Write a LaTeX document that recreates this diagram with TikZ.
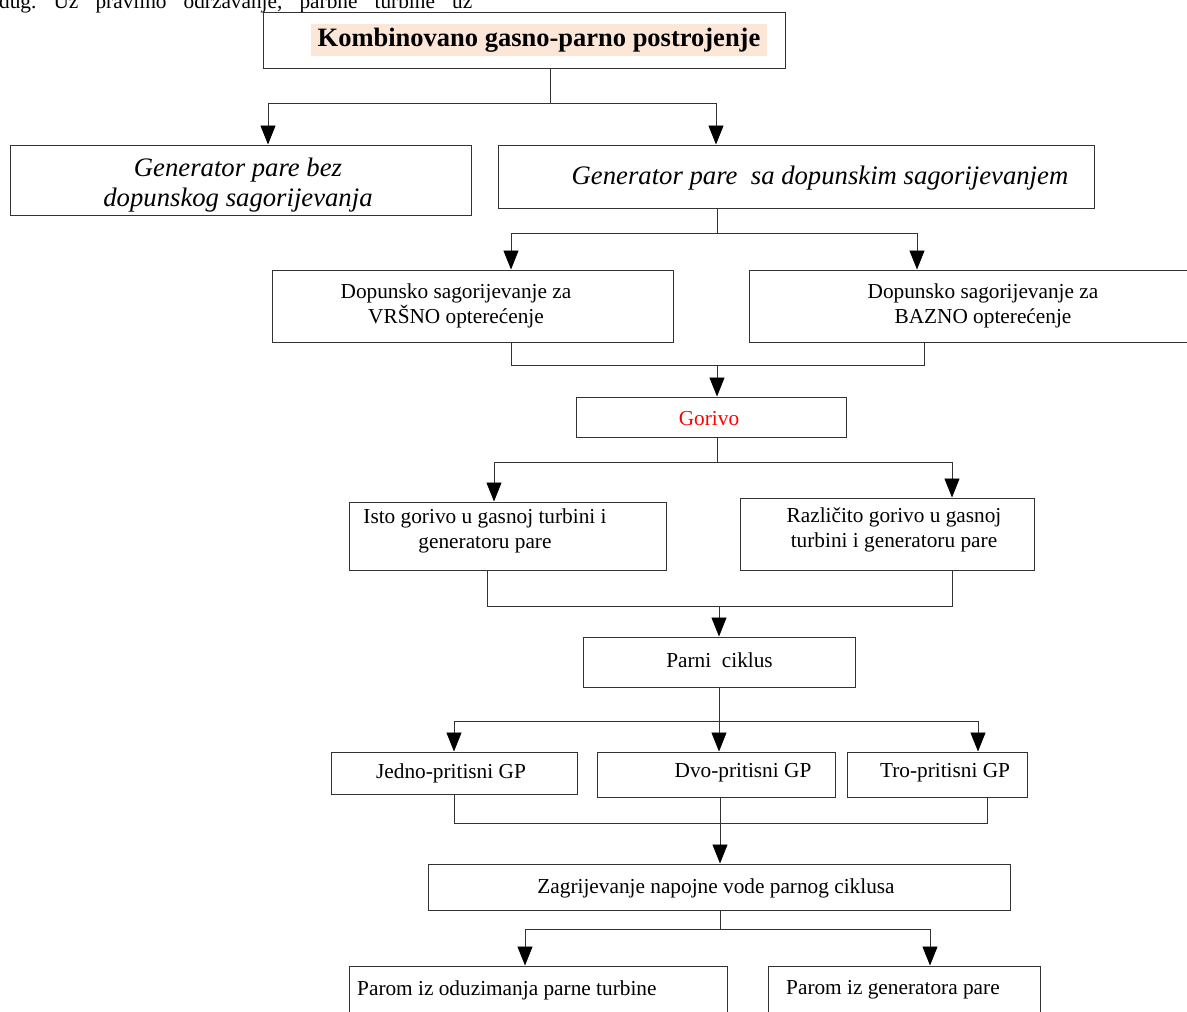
\documentclass[tikz,border=0pt]{standalone}
\usepackage{fontspec}
\setmainfont{Liberation Serif}
\usetikzlibrary{arrows.meta,fit}
\definecolor{peach}{HTML}{FCE6D8}
\definecolor{redtxt}{HTML}{FF0000}
\begin{document}
\frenchspacing
\begin{tikzpicture}[x=1pt,y=-1pt,
  box/.style={draw=black!80, line width=1pt, rectangle, inner sep=0pt},
  conn/.style={draw=black!80, line width=0.9pt},
  arr/.style={conn, -{Triangle[length=19pt,width=15pt,color=black]}},
  txt/.style={font=\fontsize{21.3}{24.5}\selectfont, align=center, inner sep=0pt},
  itxt/.style={font=\fontsize{26.7}{30.5}\selectfont\itshape, align=center, inner sep=0pt},
  btxt/.style={font=\fontsize{26.5}{30}\selectfont\bfseries, inner sep=0pt}
]
\fill[white] (0,0) rectangle (1187,1012);
\useasboundingbox (0,0) rectangle (1187,1012);

% clipped running text at top
\node[anchor=base west, inner sep=0pt, font=\fontsize{21.3}{24.5}\selectfont] (topline) at (-1,8)
  {\makebox[473pt][s]{dug. Uz pravilno održavanje, parbne turbine uz}};

% boxes
\node[box, fit={(263,12)(785,68)}] (title) {};
\node[box, fit={(10,145)(471,215)}] (gbez) {};
\node[box, fit={(498,145)(1094,208)}] (gsa) {};
\node[box, fit={(272,270)(673,342)}] (vrs) {};
\node[box, fit={(749,270)(1195,342)}] (baz) {};
\node[box, fit={(576,397)(846,437)}] (gor) {};
\node[box, fit={(349,502)(666,570)}] (isto) {};
\node[box, fit={(740,498)(1034,570)}] (raz) {};
\node[box, fit={(583,637)(855,687)}] (parni) {};
\node[box, fit={(331,752)(577,794)}] (jed) {};
\node[box, fit={(597,752)(835,797)}] (dvo) {};
\node[box, fit={(847,752)(1027,797)}] (tro) {};
\node[box, fit={(428,864)(1010,910)}] (zag) {};
\node[box, fit={(349,966)(727,1030)}] (pod) {};
\node[box, fit={(768,966)(1040,1030)}] (pgen) {};

% texts
\node[btxt, fill=peach, inner xsep=7pt, minimum height=32pt] (ttitle) at (539,40) {Kombinovano gasno-parno postrojenje};
\node[itxt] (tgbez) at (238,185) {Generator pare bez\\dopunskog sagorijevanja};
\node[itxt] (tgsa) at (820,178) {Generator pare\ \ sa dopunskim sagorijevanjem};
\node[txt] (tvrs) at (456,306) {Dopunsko sagorijevanje za\\VRŠNO opterećenje};
\node[txt] (tbaz) at (983,306) {Dopunsko sagorijevanje za\\BAZNO opterećenje};
\node[txt, text=redtxt] (tgor) at (709,419) {Gorivo};
\node[txt] (tisto) at (485,531) {Isto gorivo u gasnoj turbini i\\generatoru pare};
\node[txt] (traz) at (894,530) {Različito gorivo u gasnoj\\turbini i generatoru pare};
\node[txt] (tparni) at (719.5,660) {Parni\ \ ciklus};
\node[txt] (tjed) at (451,773) {Jedno-pritisni GP};
\node[txt] (tdvo) at (743,773) {Dvo-pritisni GP};
\node[txt] (ttro) at (945,773) {Tro-pritisni GP};
\node[txt] (tzag) at (716,888) {Zagrijevanje napojne vode parnog ciklusa};
\node[txt, anchor=west] (tpod) at (357,990) {Parom iz oduzimanja parne turbine};
\node[txt, anchor=west] (tpgen) at (786,990) {Parom iz generatora pare};

% level 1
\coordinate (b1m) at (550,103);
\coordinate (b1l) at (268,103);
\coordinate (b1r) at (716,103);
\draw[conn] (b1m |- title.south) -- (b1m);
\draw[conn] (b1l) -- (b1r);
\draw[arr] (b1l) -- (b1l |- gbez.north);
\draw[arr] (b1r) -- (b1r |- gsa.north);

% level 2
\coordinate (b2m) at (717,233);
\coordinate (b2l) at (511,233);
\coordinate (b2r) at (917,233);
\draw[conn] (b2m |- gsa.south) -- (b2m);
\draw[conn] (b2l) -- (b2r);
\draw[arr] (b2l) -- (b2l |- vrs.north);
\draw[arr] (b2r) -- (b2r |- baz.north);

% level 3
\coordinate (m3m) at (717,365);
\coordinate (m3l) at (511,365);
\coordinate (m3r) at (924,365);
\draw[conn] (m3l |- vrs.south) -- (m3l) -- (m3r) -- (m3r |- baz.south);
\draw[arr] (m3m) -- (m3m |- gor.north);

% level 4
\coordinate (b4m) at (717,462);
\coordinate (b4l) at (494,462);
\coordinate (b4r) at (952,462);
\draw[conn] (b4m |- gor.south) -- (b4m);
\draw[conn] (b4l) -- (b4r);
\draw[arr] (b4l) -- (b4l |- isto.north);
\draw[arr] (b4r) -- (b4r |- raz.north);

% level 5
\coordinate (m5m) at (719,606);
\coordinate (m5l) at (487,606);
\coordinate (m5r) at (952,606);
\draw[conn] (m5l |- isto.south) -- (m5l) -- (m5r) -- (m5r |- raz.south);
\draw[arr] (m5m) -- (m5m |- parni.north);

% level 6
\coordinate (b6m) at (719,721);
\coordinate (b6l) at (454,721);
\coordinate (b6r) at (978,721);
\draw[conn] (b6m |- parni.south) -- (b6m);
\draw[conn] (b6l) -- (b6r);
\draw[arr] (b6l) -- (b6l |- jed.north);
\draw[arr] (b6m) -- (b6m |- dvo.north);
\draw[arr] (b6r) -- (b6r |- tro.north);

% level 7
\coordinate (m7m) at (720,823);
\coordinate (m7l) at (454,823);
\coordinate (m7r) at (987,823);
\draw[conn] (m7l |- jed.south) -- (m7l) -- (m7r) -- (m7r |- tro.south);
\draw[conn] (m7m |- dvo.south) -- (m7m);
\draw[arr] (m7m) -- (m7m |- zag.north);

% level 8
\coordinate (b8m) at (720,929);
\coordinate (b8l) at (525,929);
\coordinate (b8r) at (930,929);
\draw[conn] (b8m |- zag.south) -- (b8m);
\draw[conn] (b8l) -- (b8r);
\draw[arr] (b8l) -- (b8l |- pod.north);
\draw[arr] (b8r) -- (b8r |- pgen.north);
\end{tikzpicture}
\end{document}
